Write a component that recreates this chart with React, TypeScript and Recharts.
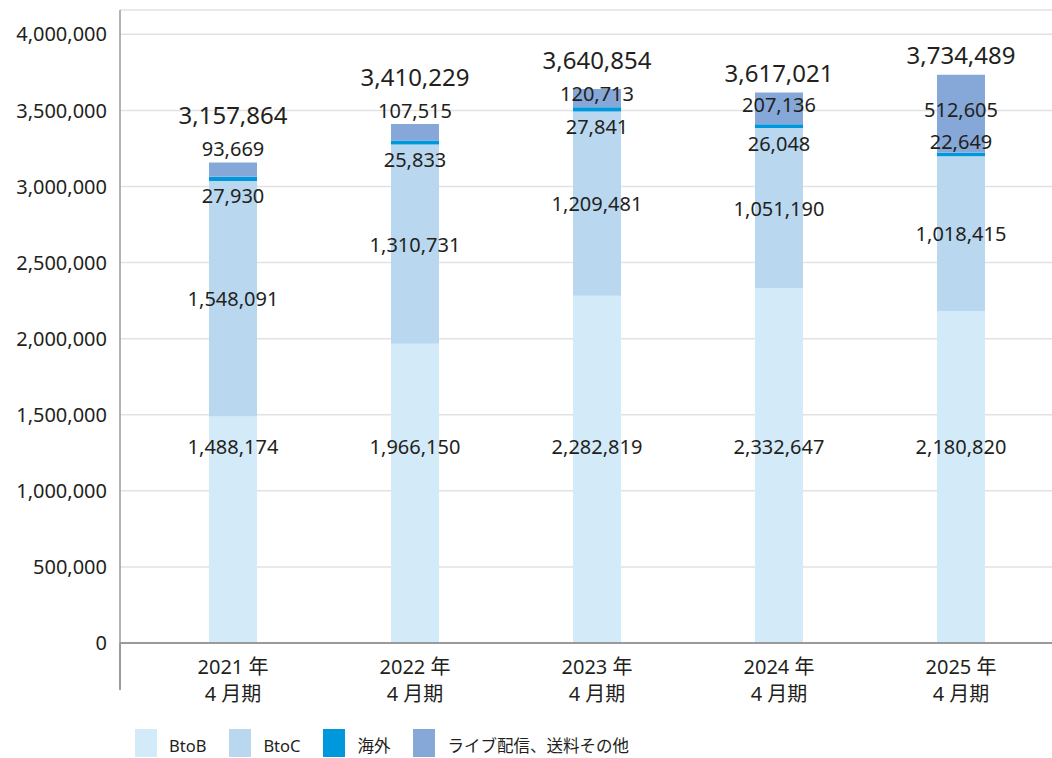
import { BarChart, Bar, XAxis, YAxis, CartesianGrid, LabelList, Legend } from 'recharts'

// ─── Data (千円) ───────────────────────────────────────────────────────────────

const YEARS = ['2021 年', '2022 年', '2023 年', '2024 年', '2025 年']
const PERIOD = '4 月期'
const BTOB = [1488174, 1966150, 2282819, 2332647, 2180820]
const BTOC = [1548091, 1310731, 1209481, 1051190, 1018415]
const OVERSEAS = [27930, 25833, 27841, 26048, 22649]
const LIVE = [93669, 107515, 120713, 207136, 512605]
const TOTALS = [3157864, 3410229, 3640854, 3617021, 3734489]
const Y_TICKS = [0, 500000, 1000000, 1500000, 2000000, 2500000, 3000000, 3500000, 4000000]
const Y_MAX = 4160000

const SERIES = [
  { key: 'btob', name: 'BtoB', color: '#d3ebf9' },
  { key: 'btoc', name: 'BtoC', color: '#b9d8f0' },
  { key: 'overseas', name: '海外', color: '#0098dc' },
  { key: 'live', name: 'ライブ配信、送料その他', color: '#86a8d8' },
]

const FONT = "'Noto Sans', 'Noto Sans CJK JP', sans-serif"
const TEXT = '#231f20'
const AXIS = '#9a9a9a'

const chartData = YEARS.map((year, i) => ({
  year,
  btob: BTOB[i],
  btoc: BTOC[i],
  overseas: OVERSEAS[i],
  live: LIVE[i],
}))

const fmt = (v: number) => Number(v).toLocaleString('en-US')

function box(p: any) {
  const vb = p.viewBox ?? p
  return { x: Number(vb.x), y: Number(vb.y), w: Number(vb.width), h: Number(vb.height) }
}

function idx(p: any, arr: number[]) {
  if (typeof p.index === 'number') return p.index
  return arr.indexOf(Number(p.value))
}

function Txt({ x, y, size = 20, children }: any) {
  return (
    <text x={x} y={y} textAnchor="middle" dominantBaseline="central"
      fill={TEXT} fontSize={size} fontFamily={FONT}>
      {children}
    </text>
  )
}

// ─── Segment labels ──────────────────────────────────────────────────────────

function BtoBLabel(p: any) {
  const { x, y, w, h } = box(p)
  return <Txt x={x + w / 2} y={y + h - 197}>{fmt(p.value)}</Txt>
}

function BtoCLabel(p: any) {
  const { x, y, w, h } = box(p)
  return <Txt x={x + w / 2} y={y + h / 2}>{fmt(p.value)}</Txt>
}

function OverseasLabel(p: any) {
  const { x, y, w, h } = box(p)
  const i = idx(p, OVERSEAS)
  const liveH = h * (LIVE[i] / OVERSEAS[i])
  // tall "live" block above: put the label inside it, above the thin line
  const ly = liveH > 60 ? y - 11 : y + h + 15
  return <Txt x={x + w / 2} y={ly}>{fmt(p.value)}</Txt>
}

function LiveLabel(p: any) {
  const { x, y, w, h } = box(p)
  const i = idx(p, LIVE)
  const ly = h < 17.5 ? y - 14 : h < 25 ? y + 5 : y + h / 2 - 4
  const ty = h < 25 ? ly - 34 : y - 20
  return (
    <g>
      <Txt x={x + w / 2} y={ly}>{fmt(p.value)}</Txt>
      <Txt x={x + w / 2} y={ty} size={24}>{fmt(TOTALS[i])}</Txt>
    </g>
  )
}

// ─── Axis tick / legend ──────────────────────────────────────────────────────

function YearTick({ x, y, payload }: any) {
  return (
    <g>
      <Txt x={x} y={y + 23} size={20}>{payload.value}</Txt>
      <Txt x={x} y={y + 50} size={20}>{PERIOD}</Txt>
    </g>
  )
}

function LegendContent() {
  return (
    <div style={{ display: 'flex', alignItems: 'flex-end', fontFamily: FONT, fontSize: 16.5, color: TEXT }}>
      {SERIES.map(s => (
        <div key={s.key} style={{ display: 'flex', alignItems: 'flex-end', marginRight: 23 }}>
          <span style={{ width: 22, height: 28, background: s.color, display: 'inline-block', marginRight: 12 }} />
          <span style={{ lineHeight: '22px', whiteSpace: 'nowrap' }}>{s.name}</span>
        </div>
      ))}
    </div>
  )
}

export default function App() {
  return (
    <div style={{ position: 'absolute', left: 0, top: 0, width: 1052, height: 758, background: '#fff' }}>
      <BarChart
        width={1052}
        height={758}
        data={chartData}
        margin={{ top: 10, right: 0, left: 0, bottom: 55 }}
      >
        <CartesianGrid horizontal vertical={false} stroke="#e2e2e2" strokeWidth={1.5} />
        <XAxis
          dataKey="year"
          height={60}
          tickSize={0}
          tickMargin={0}
          tickLine={false}
          interval={0}
          padding={{ left: 22, right: 0 }}
          axisLine={{ stroke: AXIS, strokeWidth: 2 }}
          tick={<YearTick />}
        />
        <YAxis
          width={120}
          domain={[0, Y_MAX]}
          ticks={Y_TICKS}
          allowDataOverflow
          tickSize={0}
          tickMargin={13}
          tickLine={false}
          axisLine={{ stroke: AXIS, strokeWidth: 1.5 }}
          tickFormatter={fmt}
          tick={{ fill: TEXT, fontSize: 20, fontFamily: FONT }}
        />
        <Bar dataKey="btob" name="BtoB" stackId="a" barSize={48} fill={SERIES[0].color} isAnimationActive={false}>
          <LabelList dataKey="btob" content={BtoBLabel} />
        </Bar>
        <Bar dataKey="btoc" name="BtoC" stackId="a" barSize={48} fill={SERIES[1].color} isAnimationActive={false}>
          <LabelList dataKey="btoc" content={BtoCLabel} />
        </Bar>
        <Bar dataKey="overseas" name="海外" stackId="a" barSize={48} fill={SERIES[2].color} isAnimationActive={false}>
          <LabelList dataKey="overseas" content={OverseasLabel} />
        </Bar>
        <Bar dataKey="live" name="ライブ配信、送料その他" stackId="a" barSize={48} fill={SERIES[3].color} isAnimationActive={false}>
          <LabelList dataKey="live" content={LiveLabel} />
        </Bar>
        <Legend
          layout="horizontal"
          verticalAlign="middle"
          align="center"
          content={<LegendContent />}
          wrapperStyle={{ top: 729, left: 135, width: 'auto', height: 'auto' }}
        />
      </BarChart>
      {/* y-axis line continues below the category labels */}
      <div style={{ position: 'absolute', left: 119.25, top: 643, width: 1.5, height: 47, background: AXIS }} />
    </div>
  )
}
